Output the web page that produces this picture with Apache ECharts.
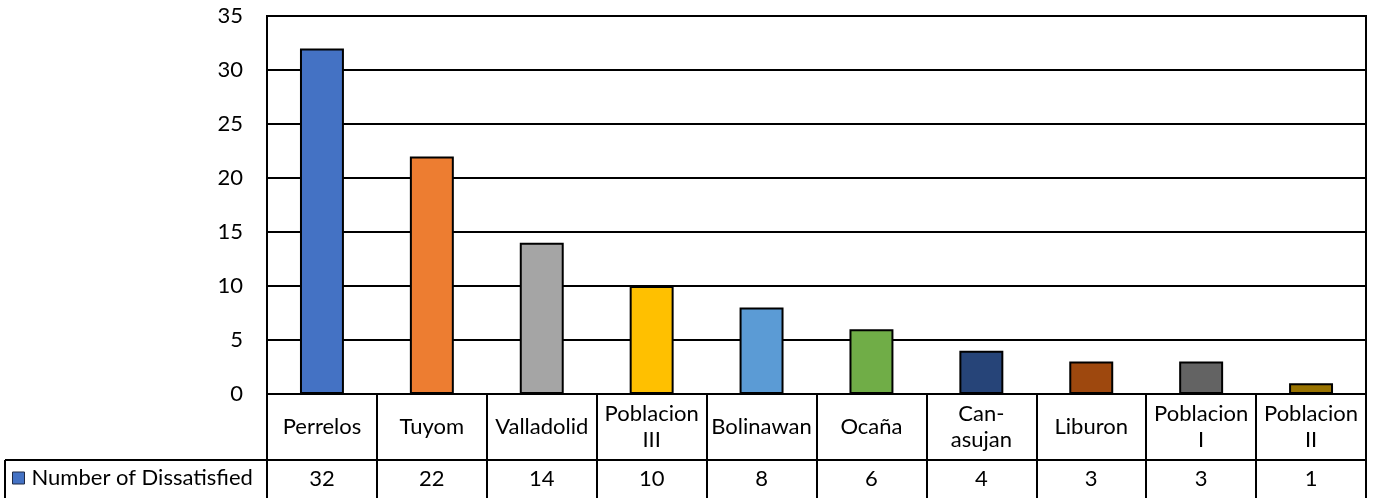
<!DOCTYPE html>
<html>
<head>
<meta charset="utf-8">
<script src="https://cdn.jsdelivr.net/npm/echarts@6/dist/echarts.min.js"></script>
<style>
  html, body { margin: 0; padding: 0; background: #fff; }
  #chart { width: 1374px; height: 498px; }
</style>
</head>
<body>
<div id="chart"></div>
<script>
// Barangays and number of dissatisfied respondents
const categories = ['Perrelos', 'Tuyom', 'Valladolid', 'Poblacion\nIII', 'Bolinawan', 'Ocaña', 'Can-\nasujan', 'Liburon', 'Poblacion\nI', 'Poblacion\nII'];
const dissatisfied = [32, 22, 14, 10, 8, 6, 4, 3, 3, 1];
const barColors = ['#4472C4', '#ED7D31', '#A5A5A5', '#FFC000', '#5B9BD5', '#70AD47', '#264478', '#9E480E', '#636363', '#997300'];
const yMin = 0, yMax = 35, yStep = 5;
const seriesName = 'Number of Dissatisfied';

const FONT = 'Lato, "Open Sans", sans-serif';
const FS = 22;
const INK = '#000';
const LW = 2;

const chart = echarts.init(document.getElementById('chart'), null, { renderer: 'canvas' });

chart.setOption({
  animation: false,
  backgroundColor: '#fff',
  textStyle: { fontFamily: FONT, color: INK },
  grid: {
    left: 267, right: 8, top: 16, bottom: 104,
    show: true, borderColor: INK, borderWidth: LW,
    containLabel: false, outerBoundsMode: 'none'
  },
  legend: {
    left: 12, top: 467,
    padding: 0,
    icon: 'rect', itemWidth: 12, itemHeight: 12, itemGap: 8,
    data: [seriesName],
    itemStyle: { borderColor: '#1f2a44', borderWidth: 1 },
    textStyle: { fontFamily: FONT, fontSize: FS, color: INK, padding: [0, 0, 0, 2] }
  },
  xAxis: [
    {
      type: 'category',
      data: categories,
      position: 'bottom',
      axisLine: { show: true, lineStyle: { color: INK, width: LW } },
      axisTick: { show: true, interval: 0, length: 104, lineStyle: { color: INK, width: LW } },
      axisLabel: {
        interval: 0, margin: 33, verticalAlign: 'middle', align: 'center',
        fontFamily: FONT, fontSize: FS, lineHeight: 26, color: INK
      },
      splitLine: { show: false }
    },
    {
      // data table row holding the values under each category
      type: 'category',
      data: categories,
      position: 'bottom',
      offset: 66,
      axisLine: { show: true, lineStyle: { color: INK, width: LW } },
      axisTick: { show: false },
      axisLabel: {
        interval: 0, margin: 19, verticalAlign: 'middle', align: 'center',
        fontFamily: FONT, fontSize: FS, color: INK,
        formatter: (v, i) => String(dissatisfied[i])
      },
      splitLine: { show: false }
    }
  ],
  yAxis: {
    type: 'value',
    min: yMin, max: yMax, interval: yStep,
    axisLine: { show: true, lineStyle: { color: INK, width: LW } },
    axisTick: { show: false },
    axisLabel: { margin: 24, fontFamily: FONT, fontSize: FS, color: INK },
    splitLine: { show: true, lineStyle: { color: INK, width: LW } }
  },
  graphic: [
    // legend cell of the data table
    { type: 'line', shape: { x1: 5, y1: 460, x2: 267, y2: 460 }, style: { stroke: INK, lineWidth: LW } },
    { type: 'line', shape: { x1: 5, y1: 460, x2: 5, y2: 498 }, style: { stroke: INK, lineWidth: LW } }
  ],
  series: [{
    name: seriesName,
    type: 'bar',
    xAxisIndex: 0,
    barWidth: '40%',
    itemStyle: { color: barColors[0], borderColor: INK, borderWidth: 2 },
    data: dissatisfied.map((v, i) => ({ value: v, itemStyle: { color: barColors[i] } }))
  }]
});
</script>
</body>
</html>
